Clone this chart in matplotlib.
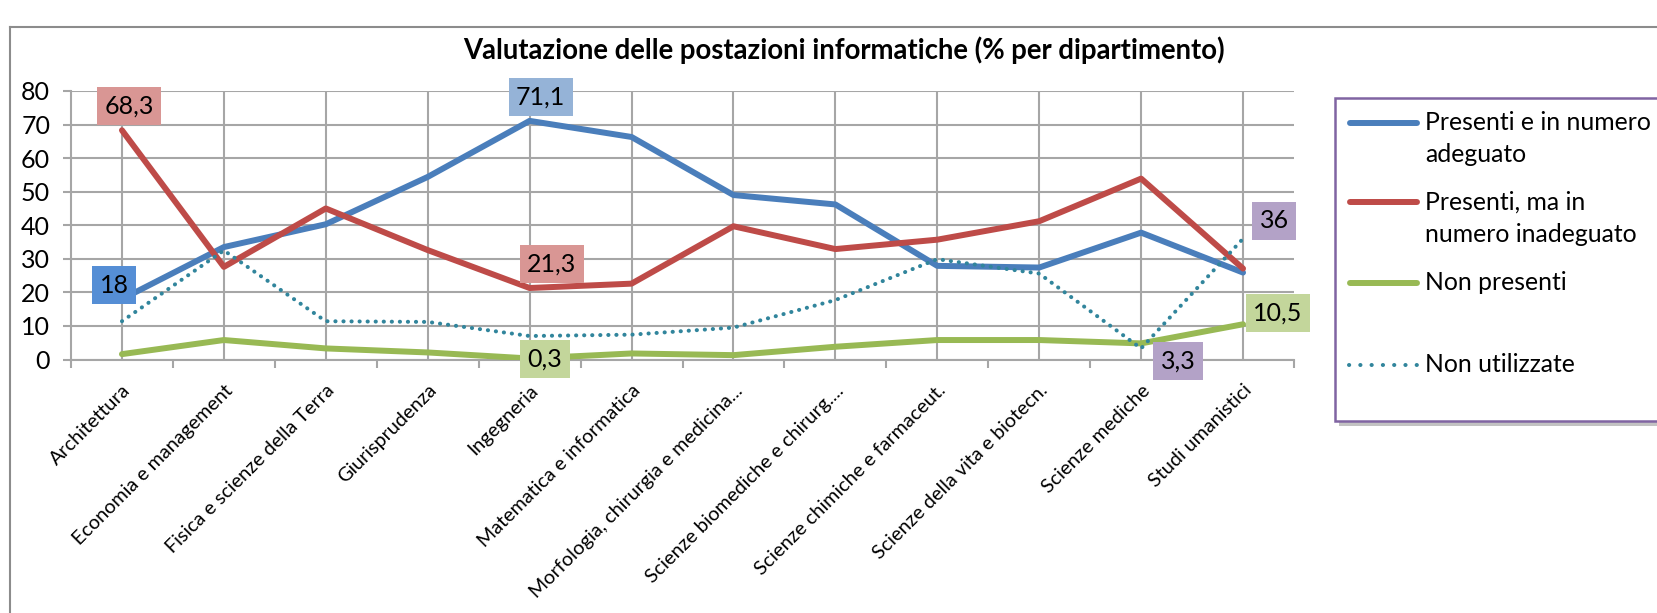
import matplotlib
matplotlib.use("Agg")
import matplotlib.pyplot as plt
from matplotlib.lines import Line2D
from matplotlib.patches import Rectangle
from matplotlib.transforms import ScaledTranslation
import numpy as np

plt.rcParams['font.family'] = ['Lato', 'DejaVu Sans']

departments = [
    "Architettura", "Economia e management", "Fisica e scienze della Terra",
    "Giurisprudenza", "Ingegneria", "Matematica e informatica",
    "Morfologia, chirurgia e medicina...", "Scienze biomediche e chirurg....",
    "Scienze chimiche e farmaceut.", "Scienze della vita e biotecn.",
    "Scienze mediche", "Studi umanistici",
]

series_names = [
    "Presenti e in numero\nadeguato",
    "Presenti, ma in\nnumero inadeguato",
    "Non presenti",
    "Non utilizzate",
]

adeguato = [18.0, 33.5, 40.3, 54.4, 71.1, 66.3, 49.0, 46.2, 27.9, 27.4, 37.8, 25.9]
inadeguato = [68.3, 27.6, 45.0, 32.6, 21.3, 22.6, 39.7, 32.9, 35.7, 41.2, 53.9, 27.1]
non_presenti = [1.6, 5.8, 3.3, 2.1, 0.3, 1.8, 1.3, 3.8, 5.8, 5.8, 4.8, 10.5]
non_utilizzate = [11.4, 32.5, 11.4, 11.2, 7.0, 7.4, 9.5, 17.7, 29.9, 25.6, 3.3, 36.0]

y_ticks = [0, 10, 20, 30, 40, 50, 60, 70, 80]
title = "Valutazione delle postazioni informatiche (% per dipartimento)"

W, H = 1658, 613
fig = plt.figure(figsize=(W / 100, H / 100), dpi=100)

def fx(px):
    return px / W

def fy(py):
    return 1 - py / H

# plot area
ax_left, ax_right, ax_top, ax_bottom = 71, 1294, 91, 359.5
ax = fig.add_axes([fx(ax_left), fy(ax_bottom), fx(ax_right - ax_left), (ax_bottom - ax_top) / H])

grid_col = "#A6A6A6"
x = np.arange(len(departments))

colors = ["#4A7EBB", "#BE4B48", "#98B954", "#31859C"]
series = [adeguato, inadeguato, non_presenti, non_utilizzate]
dot_style = (0, (0.05, 1.95))

for i, (vals, col) in enumerate(zip(series, colors)):
    if i < 3:
        ax.plot(x, vals, color=col, lw=4.3, solid_capstyle='round',
                solid_joinstyle='round', zorder=3)
    else:
        ax.plot(x, vals, color=col, lw=2.9, linestyle=dot_style,
                dash_capstyle='round', zorder=4)

ax.set_xlim(-0.5, len(departments) - 0.5)
ax.set_ylim(0, 80)
ax.set_yticks(y_ticks)
ax.set_yticklabels([str(v) for v in y_ticks], fontsize=18)

# boundary ticks below the axis, labels at the category centres
ax.set_xticks(np.arange(-0.5, len(departments), 1.0))
ax.set_xticklabels([])
ax.set_xticks(x, minor=True)
ax.set_xticklabels(departments, minor=True, rotation=45, ha='right',
                   rotation_mode='anchor', fontsize=14.2)
shift = ScaledTranslation(7 / 100, 2 / 100, fig.dpi_scale_trans)
for lbl in ax.get_xticklabels(minor=True):
    lbl.set_transform(lbl.get_transform() + shift)
ax.tick_params(axis='x', which='major', length=6, width=1.5, color=grid_col, direction='out')
ax.tick_params(axis='x', which='minor', length=0, pad=16)
ax.tick_params(axis='y', length=6, width=1.5, color=grid_col, pad=9)

ax.grid(True, which='minor', axis='x', color=grid_col, lw=1.5)
ax.grid(True, which='major', axis='y', color=grid_col, lw=1.5)
ax.grid(False, which='major', axis='x')
ax.set_axisbelow(True)
for s in ['top', 'right']:
    ax.spines[s].set_visible(False)
for s in ['left', 'bottom']:
    ax.spines[s].set_color(grid_col)
    ax.spines[s].set_linewidth(1.5)

# value labels in coloured boxes
def fmt(v):
    return f"{v:g}".replace('.', ',')

labels = [
    (0, 0, (-8, 14), "#558ED5"),
    (1, 0, (7, 24), "#D99694"),
    (0, 4, (11, 24), "#95B3D7"),
    (1, 4, (22, 24), "#D99694"),
    (2, 4, (15, -1), "#C3D69B"),
    (2, 11, (35, 11), "#C3D69B"),
    (3, 11, (31, 18), "#B3A2C7"),
    (3, 10, (37, -13), "#B3A2C7"),
]
for si, ci, off, fc in labels:
    v = series[si][ci]
    ax.annotate(fmt(v), xy=(ci, v), xytext=off, textcoords='offset pixels',
                ha='center', va='center', fontsize=18, color='black', zorder=6,
                bbox=dict(boxstyle='square,pad=0.3', fc=fc, ec='none'),
                annotation_clip=False)

# title
fig.text(fx(844), fy(50), title, ha='center', va='center', fontsize=19.8,
         fontweight='bold')

# outer chart border
fig.add_artist(Line2D([fx(10), fx(W + 5)], [fy(27), fy(27)], color="#8C8C8C", lw=1.5))
fig.add_artist(Line2D([fx(10), fx(10)], [fy(27), fy(H + 5)], color="#8C8C8C", lw=1.5))

# legend
lg_left, lg_top, lg_bottom = 1335, 98, 421
fig.add_artist(Rectangle((fx(lg_left + 4), fy(lg_bottom + 5)), fx(W), (lg_bottom - lg_top) / H,
                         fc="#9A9A9A", ec='none', alpha=0.6, zorder=1))
fig.add_artist(Rectangle((fx(lg_left), fy(lg_bottom)), fx(W), (lg_bottom - lg_top) / H,
                         fc='white', ec="#8064A2", lw=1.8, zorder=2))

entry_rows = [123, 202, 283, 365]
text_rows = [(123, 155), (202, 235), (283,), (365,)]
for i, (name, col) in enumerate(zip(series_names, colors)):
    yy = fy(entry_rows[i])
    if i < 3:
        fig.add_artist(Line2D([fx(1350), fx(1417)], [yy, yy], color=col, lw=4.3,
                              solid_capstyle='round', zorder=3))
    else:
        fig.add_artist(Line2D([fx(1349), fx(1418)], [yy, yy], color=col, lw=2.9,
                              linestyle=(0, (0.05, 2.75)), dash_capstyle='round', zorder=3))
    for line_text, row in zip(name.split("\n"), text_rows[i]):
        fig.text(fx(1425), fy(row), line_text, ha='left', va='center', fontsize=17.8,
                 zorder=4)

fig.savefig("out.png", dpi=100, facecolor='white')
